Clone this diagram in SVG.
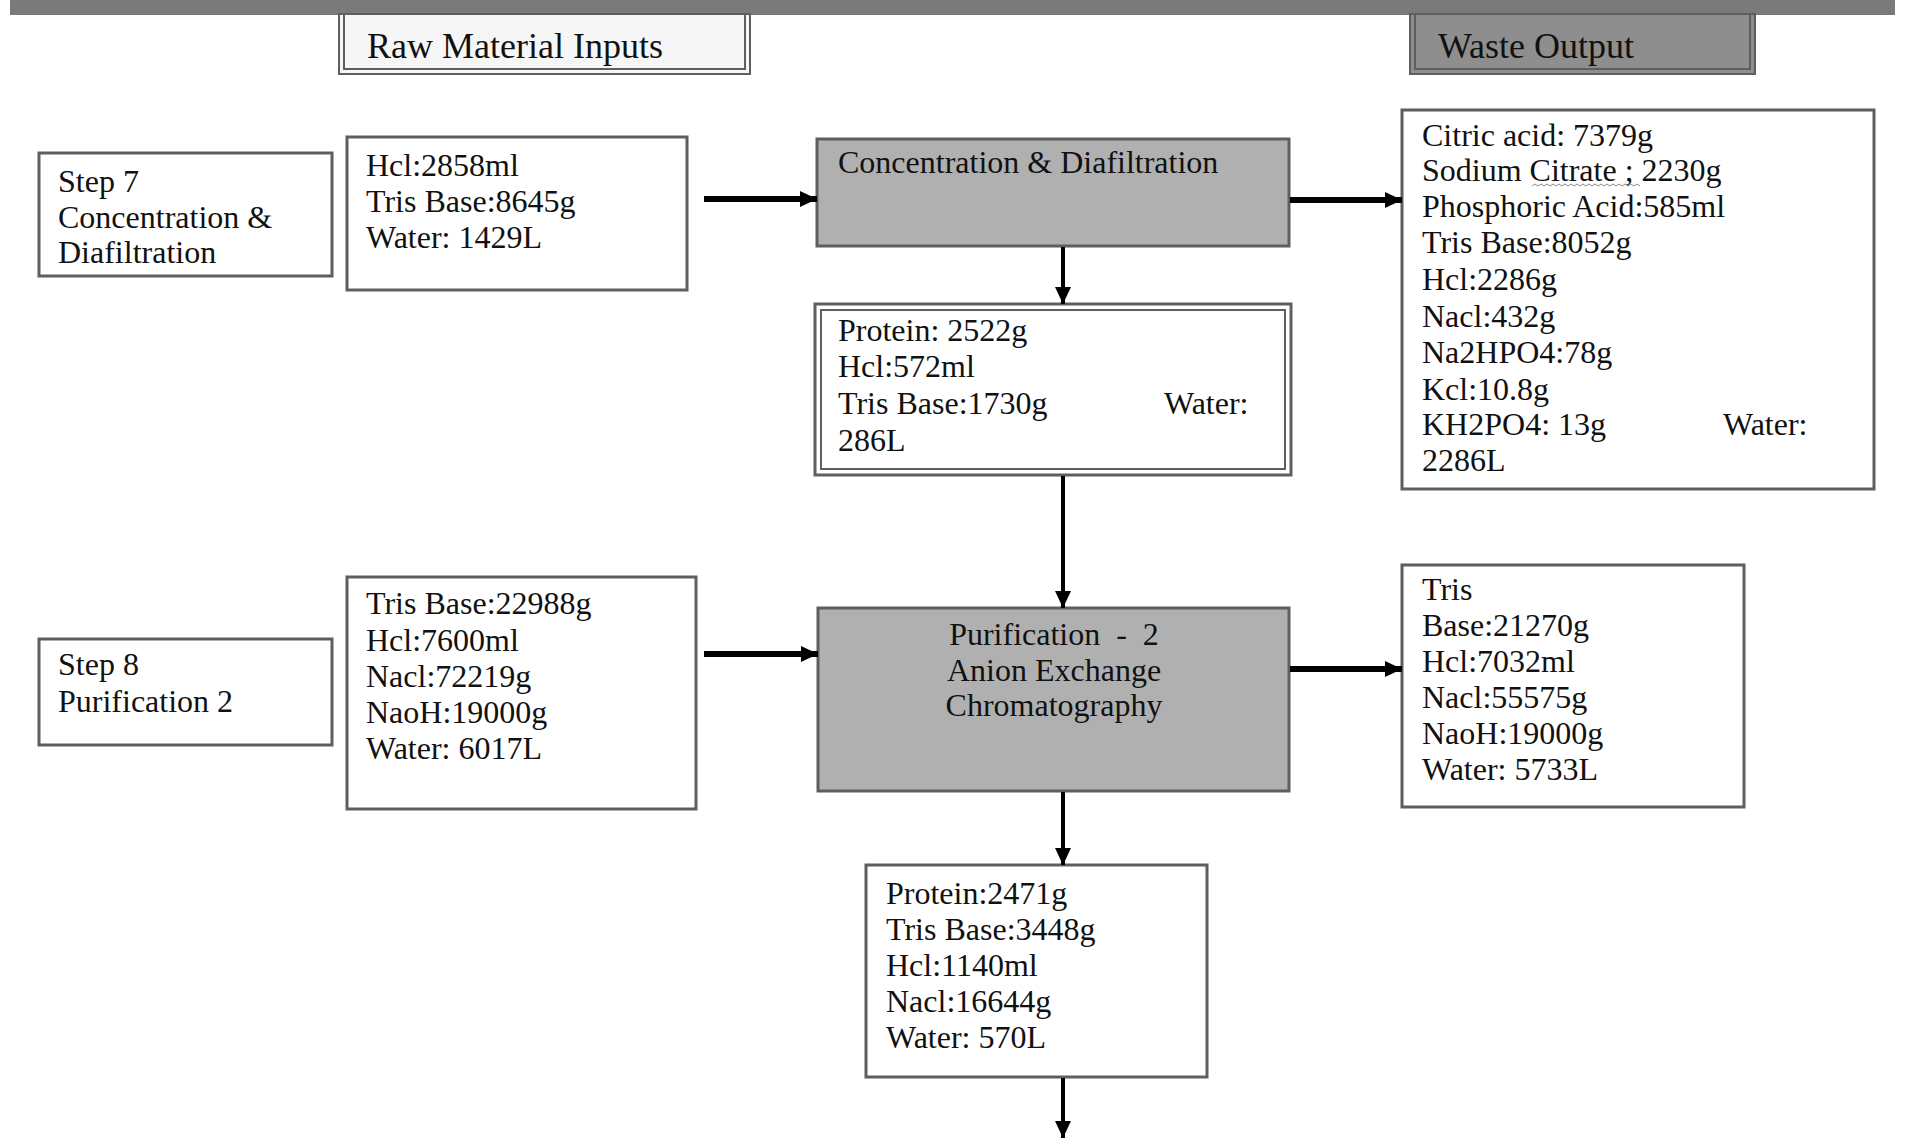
<svg xmlns="http://www.w3.org/2000/svg" width="1908" height="1140" viewBox="0 0 1908 1140">
  <style>
    text { font-family: "Liberation Serif", "Times New Roman", serif; font-size: 32px; fill: #111; }
    .hdr { font-size: 36px; }
    .box { fill: #ffffff; stroke: #5e5e5e; stroke-width: 3; }
    .proc { fill: #b0b0b0; stroke: #5e5e5e; stroke-width: 3; }
    .thin { fill: none; stroke: #5e5e5e; stroke-width: 2; }
    .flow { stroke: #000; fill: none; marker-end: url(#head); }
    .wide { stroke-width: 6; }
    .narrow { stroke-width: 4; }
  </style>
  <defs>
    <marker id="head" markerUnits="userSpaceOnUse" markerWidth="18" markerHeight="18" refX="17" refY="9" orient="auto">
      <path d="M0,1 L17,9 L0,17 Z" fill="#000"/>
    </marker>
  </defs>

  <rect width="1908" height="1140" fill="#ffffff"/>

  <!-- page rule along the top edge -->
  <rect x="10" y="0" width="1885" height="15" fill="#7a7a7a"/>

  <!-- column headers -->
  <g id="hdr-inputs">
    <rect x="339" y="14" width="411" height="60" fill="#f6f6f6" stroke="#5e5e5e" stroke-width="2"/>
    <rect x="344" y="14" width="401" height="55" class="thin"/>
    <text class="hdr" x="367" y="58">Raw Material Inputs</text>
  </g>
  <g id="hdr-waste">
    <rect x="1410" y="14" width="345" height="60" fill="#8e8e8e" stroke="#5e5e5e" stroke-width="2"/>
    <rect x="1415" y="14" width="335" height="55" class="thin"/>
    <text class="hdr" x="1438" y="58">Waste Output</text>
  </g>

  <!-- step 7 -->
  <g id="step7">
    <rect class="box" x="39" y="153" width="293" height="123"/>
    <text x="58" y="192">Step 7</text>
    <text x="58" y="228">Concentration &amp;</text>
    <text x="58" y="263">Diafiltration</text>
  </g>
  <g id="input7">
    <rect class="box" x="347" y="137" width="340" height="153"/>
    <text x="366" y="176">Hcl:2858ml</text>
    <text x="366" y="212">Tris Base:8645g</text>
    <text x="366" y="248">Water: 1429L</text>
  </g>
  <g id="process7">
    <rect class="proc" x="817" y="139" width="472" height="107"/>
    <text x="838" y="173">Concentration &amp; Diafiltration</text>
  </g>
  <g id="waste7">
    <rect class="box" x="1402" y="110" width="472" height="379"/>
    <text x="1422" y="146">Citric acid: 7379g</text>
    <text x="1422" y="181">Sodium Citrate ; 2230g</text>
    <path d="M1532,186 l3,-2 3,2 3,-2 3,2 3,-2 3,2 3,-2 3,2 3,-2 3,2 3,-2 3,2 3,-2 3,2 3,-2 3,2 3,-2 3,2 3,-2 3,2 3,-2 3,2 3,-2 3,2 3,-2 3,2 3,-2 3,2 3,-2 3,2 3,-2 3,2 3,-2 3,2 3,-2 3,2" fill="none" stroke="#8a8a8a" stroke-width="1"/>
    <text x="1422" y="217">Phosphoric Acid:585ml</text>
    <text x="1422" y="253">Tris Base:8052g</text>
    <text x="1422" y="290">Hcl:2286g</text>
    <text x="1422" y="327">Nacl:432g</text>
    <text x="1422" y="363">Na2HPO4:78g</text>
    <text x="1422" y="400">Kcl:10.8g</text>
    <text x="1422" y="435">KH2PO4: 13g</text>
    <text x="1723" y="435">Water:</text>
    <text x="1422" y="471">2286L</text>
  </g>
  <g id="product7">
    <rect class="box" x="815" y="304" width="476" height="171"/>
    <rect class="thin" x="821" y="310" width="464" height="159"/>
    <text x="838" y="341">Protein: 2522g</text>
    <text x="838" y="377">Hcl:572ml</text>
    <text x="838" y="414">Tris Base:1730g</text>
    <text x="1164" y="414">Water:</text>
    <text x="838" y="451">286L</text>
  </g>

  <!-- step 8 -->
  <g id="step8">
    <rect class="box" x="39" y="639" width="293" height="106"/>
    <text x="58" y="675">Step 8</text>
    <text x="58" y="712">Purification 2</text>
  </g>
  <g id="input8">
    <rect class="box" x="347" y="577" width="349" height="232"/>
    <text x="366" y="614">Tris Base:22988g</text>
    <text x="366" y="651">Hcl:7600ml</text>
    <text x="366" y="687">Nacl:72219g</text>
    <text x="366" y="723">NaoH:19000g</text>
    <text x="366" y="759">Water: 6017L</text>
  </g>
  <g id="process8">
    <rect class="proc" x="818" y="608" width="471" height="183"/>
    <text x="1054" y="645" text-anchor="middle" style="white-space:pre">Purification  -  2</text>
    <text x="1054" y="681" text-anchor="middle">Anion Exchange</text>
    <text x="1054" y="716" text-anchor="middle">Chromatography</text>
  </g>
  <g id="waste8">
    <rect class="box" x="1402" y="565" width="342" height="242"/>
    <text x="1422" y="600">Tris</text>
    <text x="1422" y="636">Base:21270g</text>
    <text x="1422" y="672">Hcl:7032ml</text>
    <text x="1422" y="708">Nacl:55575g</text>
    <text x="1422" y="744">NaoH:19000g</text>
    <text x="1422" y="780">Water: 5733L</text>
  </g>
  <g id="product8">
    <rect class="box" x="866" y="865" width="341" height="212"/>
    <text x="886" y="904">Protein:2471g</text>
    <text x="886" y="940">Tris Base:3448g</text>
    <text x="886" y="976">Hcl:1140ml</text>
    <text x="886" y="1012">Nacl:16644g</text>
    <text x="886" y="1048">Water: 570L</text>
  </g>

  <!-- flow connectors -->
  <g id="connectors">
    <line class="flow wide" x1="704" y1="199" x2="817" y2="199"/>
    <line class="flow wide" x1="1290" y1="200" x2="1402" y2="200"/>
    <line class="flow narrow" x1="1063" y1="247" x2="1063" y2="304"/>
    <line class="flow narrow" x1="1063" y1="476" x2="1063" y2="608"/>
    <line class="flow wide" x1="704" y1="654" x2="818" y2="654"/>
    <line class="flow wide" x1="1290" y1="669" x2="1402" y2="669"/>
    <line class="flow narrow" x1="1063" y1="792" x2="1063" y2="865"/>
    <line class="flow narrow" x1="1063" y1="1078" x2="1063" y2="1138"/>
  </g>
</svg>
